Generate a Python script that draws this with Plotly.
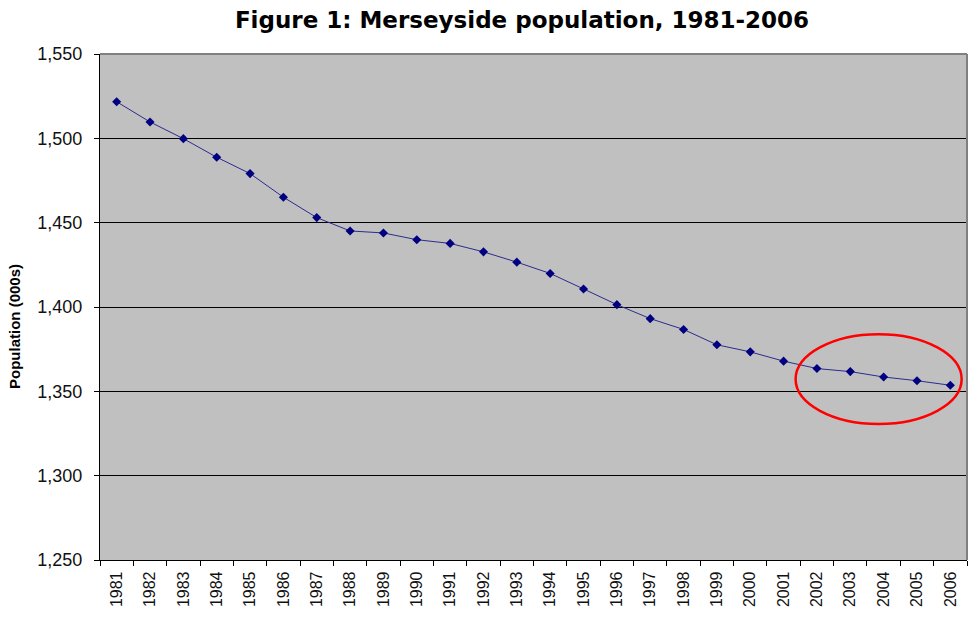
import plotly.graph_objects as go

years = [str(y) for y in range(1981, 2007)]
population = [1521.7, 1509.7, 1499.8, 1488.8, 1479.1, 1465.1, 1453.0, 1445.1, 1443.9,
              1439.9, 1437.7, 1432.7, 1426.6, 1419.9, 1410.7, 1401.4, 1393.1, 1386.7,
              1377.6, 1373.4, 1367.9, 1363.5, 1361.7, 1358.5, 1356.3, 1353.6]
y_ticks = [1250, 1300, 1350, 1400, 1450, 1500, 1550]
y_tick_labels = ["1,250", "1,300", "1,350", "1,400", "1,450", "1,500", "1,550"]

font_family = "Liberation Sans, Arial, sans-serif"
W, H = 970, 619

fig = go.Figure()
fig.add_trace(go.Scatter(
    x=years, y=population, mode="lines+markers",
    line=dict(color="#2b2b8f", width=1),
    marker=dict(symbol="diamond", size=7, color="#000080"),
    showlegend=False, hoverinfo="x+y",
))

# highlight ellipse around the most recent years
fig.add_shape(type="circle", xref="x", yref="y",
              x0=20.36, x1=25.34, y0=1330.6, y1=1383.9,
              line=dict(color="#ff0000", width=2.5), fillcolor="rgba(0,0,0,0)")

# plot area top/right border
fig.add_shape(type="line", xref="paper", yref="paper", x0=0, x1=1, y0=1, y1=1,
              line=dict(color="#808080", width=2))
fig.add_shape(type="line", xref="paper", yref="paper", x0=1, x1=1, y0=0, y1=1,
              line=dict(color="#808080", width=2))

# y-axis title
fig.add_annotation(text="<b>Population (000s)</b>", xref="paper", yref="paper",
                   x=(14 - 100) / 867, y=(560 - 327) / 506, textangle=-90,
                   showarrow=False, xanchor="center", yanchor="middle",
                   font=dict(size=15, family=font_family, color="black"))

fig.update_layout(
    width=W, height=H,
    margin=dict(l=100, r=3, t=54, b=59),
    paper_bgcolor="white", plot_bgcolor="#C0C0C0",
    title=dict(text="<b>Figure 1: Merseyside population, 1981-2006</b>",
               x=522 / W, xanchor="center", y=1 - 20 / H, yanchor="middle",
               font=dict(family="DejaVu Sans, Tahoma, sans-serif", size=23, color="black")),
    font=dict(family=font_family, color="black"),
    xaxis=dict(
        type="category", tickangle=-90, tickson="boundaries",
        ticks="outside", ticklen=5, tickcolor="black",
        showline=True, linecolor="black", linewidth=1.2,
        showgrid=False, tickfont=dict(size=16, family=font_family, color="#111"),
        range=[-0.5, 25.5], fixedrange=True, automargin=False,
        ticklabelstandoff=4,
    ),
    yaxis=dict(
        range=[1250, 1550], tickvals=y_ticks, ticktext=y_tick_labels,
        ticks="outside", ticklen=5, tickcolor="black",
        showline=True, linecolor="black", linewidth=1.2,
        showgrid=True, gridcolor="black", gridwidth=1,
        tickfont=dict(size=18, family=font_family, color="#111"),
        zeroline=False, automargin=False, ticklabelstandoff=8,
    ),
)

# remove the browser's default 8px body margin so the figure fills the window exactly
fig.write_html("out.html", config={"displayModeBar": False},
               post_script="document.body.style.margin='0px';document.body.style.overflow='hidden';")
